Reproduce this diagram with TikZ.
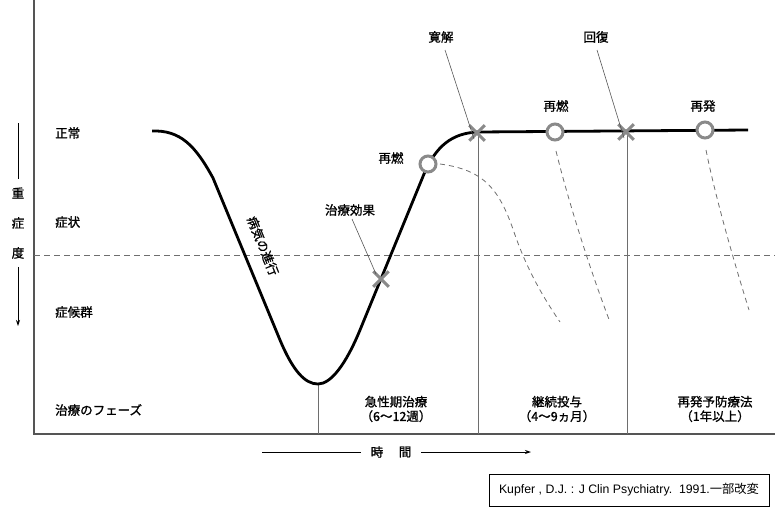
\documentclass[tikz,border=0pt]{standalone}
\usepackage{fontspec}
\setmainfont{Liberation Sans}
\newfontfamily\jp{Noto Sans CJK JP}[FakeBold=1.2]
\newfontfamily\jpc{Noto Sans CJK JP}
\usetikzlibrary{shapes.misc,arrows.meta}
\definecolor{mk}{HTML}{8A8A8A}
\definecolor{ln}{HTML}{6E6E6E}
\definecolor{ax}{HTML}{555555}
\tikzset{
  lbl/.style={font=\jp\fontsize{12.5}{14.5}\selectfont, inner sep=0pt, align=center},
  xmark/.style={cross out, draw=mk, line width=3pt, minimum size=12.5pt, inner sep=0pt},
  omark/.style={circle, draw=mk, fill=white, line width=3pt, minimum size=16pt, inner sep=0pt},
  leader/.style={draw=ax, line width=0.6pt},
  vline/.style={draw=ln, line width=0.8pt},
  relapse/.style={draw=ln, line width=0.8pt, dash pattern=on 5pt off 4pt},
}
\begin{document}
\begin{tikzpicture}[x=1pt,y=-1pt]
\useasboundingbox (0,0) rectangle (775,507);
% axes
\coordinate (top) at (34,0);
\coordinate (origin) at (34,434);
\coordinate (xend) at (775,434);
\draw[draw=ax, line width=1.1pt] (top) -- (origin) -- (xend);
% dashed threshold
\coordinate (th1) at (34,255);
\coordinate (th2) at (775,255);
\draw[draw=ln, line width=0.8pt, dash pattern=on 6pt off 4pt] (th1) -- (th2);
% severity label
\node[lbl] (s1) at (18,193) {重};
\node[lbl] (s2) at (18,223) {症};
\node[lbl] (s3) at (18,253) {度};
\coordinate (sa) at (18,123);
\coordinate (sb) at (18,326);
\draw[line width=0.9pt] (sa) -- ([yshift=8pt]s1.north);
\draw[line width=0.9pt, -{Stealth[length=6pt,width=4pt]}] ([yshift=-8pt]s3.south) -- (sb);
% level labels
\node[lbl, anchor=west] (l1) at (55,133) {正常};
\node[lbl, anchor=west] (l2) at (55,222) {症状};
\node[lbl, anchor=west] (l3) at (55,312) {症候群};
\node[lbl, anchor=west] (l4) at (55,410) {治療のフェーズ};
% vertical phase lines
\coordinate (v1t) at (318,384);
\coordinate (v1b) at (318,434);
\coordinate (v2t) at (478,133);
\coordinate (v2b) at (478,434);
\coordinate (v3t) at (627,132);
\coordinate (v3b) at (627,434);
\draw[vline] (v1t) -- (v1b);
\draw[vline] (v2t) -- (v2b);
\draw[vline] (v3t) -- (v3b);
% relapse dashed curves
\coordinate (r1e) at (560,322);
\coordinate (r2e) at (610,322);
\coordinate (r3e) at (749,310);
\draw[relapse] (440,164) .. controls (485,170) and (500,190) .. (515,235) .. controls (528,272) and (545,300) .. (r1e);
\draw[relapse] (556,151) .. controls (568,200) and (590,270) .. (r2e);
\draw[relapse] (706,150) .. controls (716,200) and (735,265) .. (r3e);
% main curve
\draw[line width=2.8pt, line join=round] (152,131) .. controls (180,130) and (195,145) .. (213,178) -- (280,340)
  .. controls (293,371) and (305,384) .. (318,384)
  .. controls (331,384) and (346,364) .. (360,330) -- (424,174)
  .. controls (436,146) and (452,133) .. (478,132) -- (748,130);
% markers
\node[xmark] (eff) at (381,279) {};
\node[omark] (re1) at (428,164) {};
\node[xmark] (rem) at (477,133) {};
\node[omark] (re2) at (555,132) {};
\node[xmark] (rec) at (626,132) {};
\node[omark] (re3) at (705,130) {};
% labels on curve
\node[lbl, rotate=-68] (prog) at (263,246) {病気の進行};
\node[lbl] (effl) at (350,210) {治療効果};
\node[lbl] (re1l) at (391,158) {再燃};
\node[lbl] (reml) at (441,37) {寛解};
\node[lbl] (recl) at (596,37) {回復};
\node[lbl] (re2l) at (556,106) {再燃};
\node[lbl] (re3l) at (703,106) {再発};
\draw[leader] (352,219) -- ([shift={(-5pt,5pt)}]eff.center);
\draw[leader] (445,50) -- ([shift={(-3pt,-6pt)}]rem.center);
\draw[leader] (597,50) -- ([shift={(-2pt,-6pt)}]rec.center);
% phase labels
\node[lbl] (ph1) at (396,409) {急性期治療\\（6〜12週）};
\node[lbl] (ph2) at (557,409) {継続投与\\（4〜9ヵ月）};
\node[lbl] (ph3) at (715,409) {再発予防療法\\（1年以上）};
% time axis
\node[lbl] (t1) at (377,452) {時};
\node[lbl] (t2) at (405,452) {間};
\coordinate (ta) at (262,452);
\coordinate (tb) at (531,452);
\draw[line width=0.9pt] (ta) -- ([xshift=-10pt]t1.west);
\draw[line width=0.9pt, -{Stealth[length=6pt,width=4pt]}] ([xshift=10pt]t2.east) -- (tb);
% citation
\node[draw=black, line width=0.8pt, minimum width=280pt, minimum height=32pt, inner sep=0pt,
  font=\fontsize{12.3}{14}\selectfont] (cite) at (629,490) {Kupfer , D.J. : J Clin Psychiatry.\ \ 1991.{\jpc 一部改変}};
\end{tikzpicture}
\end{document}
